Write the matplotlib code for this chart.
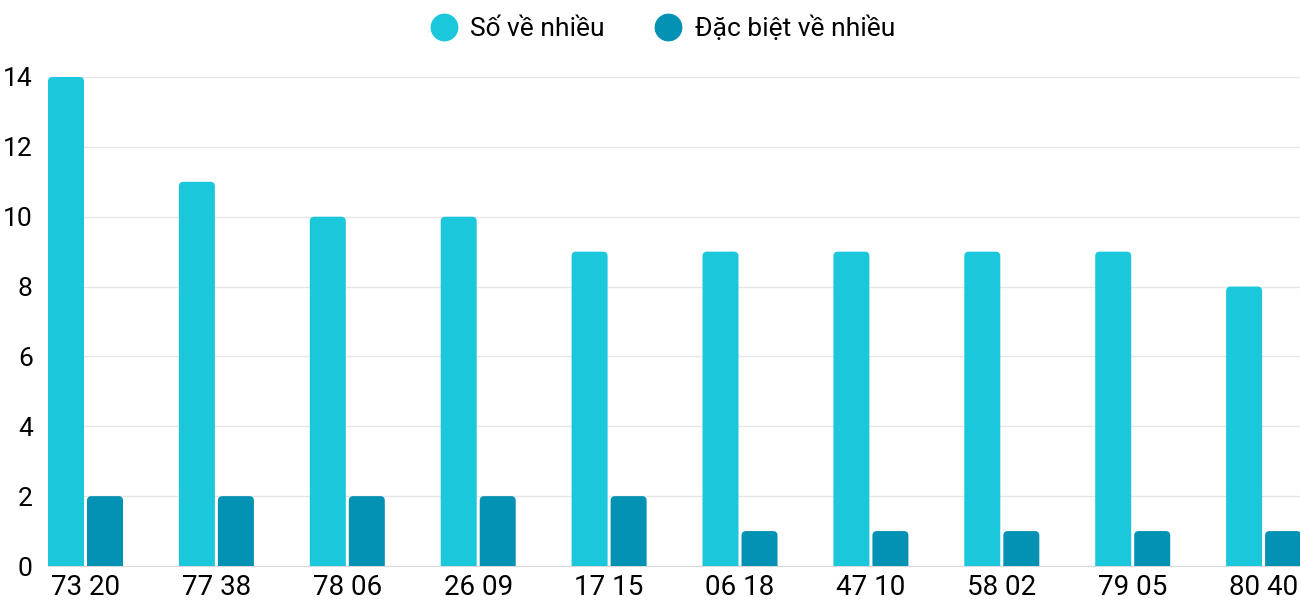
import numpy as np
import matplotlib.pyplot as plt
from matplotlib.lines import Line2D
from matplotlib.path import Path
from matplotlib.patches import PathPatch

plt.rcParams["font.family"] = ["Roboto", "DejaVu Sans"]

categories = ["73 20", "77 38", "78 06", "26 09", "17 15",
              "06 18", "47 10", "58 02", "79 05", "80 40"]
so_ve_nhieu = [14, 11, 10, 10, 9, 9, 9, 9, 9, 8]
dac_biet = [2, 2, 2, 2, 2, 1, 1, 1, 1, 1]

series_names = ["Số về nhiều", "Đặc biệt về nhiều"]
colors = ["#1bc8db", "#0391b4"]

fig = plt.figure(figsize=(13, 6), dpi=100)
ax = fig.add_axes([48 / 1300, 34 / 600, 1252 / 1300, (566 - 77) / 600])

x = np.arange(len(categories))
width = 0.275
offset = 0.149
xlim = (-0.2865, 9.278)
ylim = (0, 14)
ax.set_xlim(*xlim)
ax.set_ylim(*ylim)

# radius of the rounded top corners, in pixels -> data units
r_px = 4.5
rx = r_px * (xlim[1] - xlim[0]) / 1252
ry = r_px * (ylim[1] - ylim[0]) / (566 - 77)


def rounded_bars(bars, color):
    for rect in bars:
        x0, y0 = rect.get_x(), rect.get_y()
        w, h = rect.get_width(), rect.get_height()
        rect.set_visible(False)
        x1, y1 = x0 + w, y0 + h
        verts = [(x0, y0), (x0, y1 - ry), (x0, y1), (x0 + rx, y1),
                 (x1 - rx, y1), (x1, y1), (x1, y1 - ry), (x1, y0), (x0, y0)]
        codes = [Path.MOVETO, Path.LINETO, Path.CURVE3, Path.CURVE3,
                 Path.LINETO, Path.CURVE3, Path.CURVE3, Path.LINETO,
                 Path.CLOSEPOLY]
        ax.add_patch(PathPatch(Path(verts, codes), facecolor=color,
                               edgecolor="none", zorder=3))


b1 = ax.bar(x - offset, so_ve_nhieu, width, color=colors[0], zorder=3)
b2 = ax.bar(x + offset, dac_biet, width, color=colors[1], zorder=3)
rounded_bars(b1, colors[0])
rounded_bars(b2, colors[1])

ax.set_yticks(range(0, 15, 2))
ax.set_xticks(x)
ax.set_xticklabels(categories)

ax.yaxis.grid(True, color="#e6e6e6", linewidth=1, zorder=0)
ax.set_axisbelow(True)
for side in ["top", "right", "left"]:
    ax.spines[side].set_visible(False)
ax.spines["bottom"].set_color("#d9d9d9")

ax.tick_params(axis="y", length=0, pad=11, labelsize=19)
ax.tick_params(axis="x", length=0, pad=6, labelsize=20)

handles = [Line2D([], [], marker="o", linestyle="", markersize=19,
                  markerfacecolor=c, markeredgecolor=c) for c in colors]
ax.legend(handles, series_names, loc="center", bbox_to_anchor=(0.49, 1.100),
          ncol=2, frameon=False, fontsize=19, handletextpad=0.4,
          columnspacing=1.8, handlelength=1.2)

fig.savefig("out.png", dpi=100)
